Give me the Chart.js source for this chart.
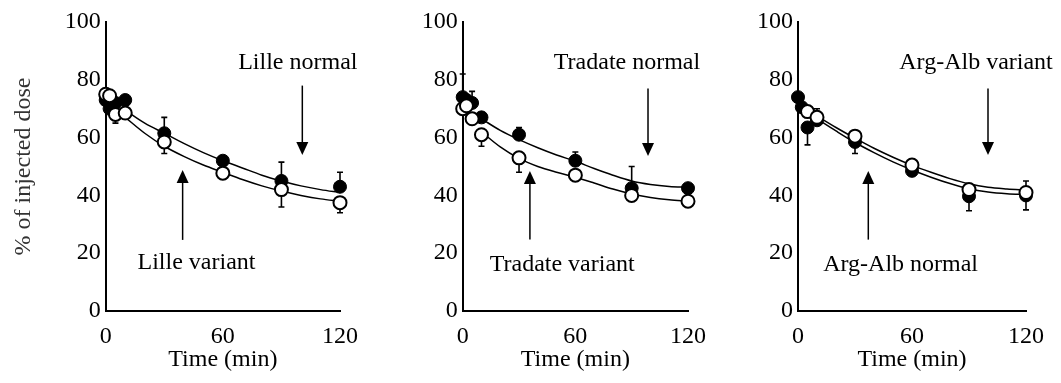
<!DOCTYPE html>
<html>
<head>
<meta charset="utf-8">
<script src="https://cdn.jsdelivr.net/npm/chart.js@4.4.1/dist/chart.umd.min.js"></script>
<style>
  body { margin: 0; background: #fff; width: 1061px; height: 383px; position: relative; overflow: hidden; }
  canvas { position: absolute; top: 0; }
</style>
</head>
<body>
<canvas id="lille" width="370" height="383" style="left:0px"></canvas>
<canvas id="tradate" width="370" height="383" style="left:350px"></canvas>
<canvas id="argalb" width="361" height="383" style="left:700px"></canvas>
<script>
// sampling times (min)
const times = [0, 2, 5, 10, 30, 60, 90, 120];
const fitTimes = [10, 20, 30, 40, 50, 60, 70, 80, 90, 100, 110, 120];
const xTicks = [0, 60, 120];

// Lille
const lilleNormal = [73, 70, 72, 73, 61.5, 52, 45, 43];
const lilleVariant = [75, 74.5, 68, 68.5, 58.5, 47.7, 42, 37.5];
const lilleNormalUp = [0, 0, 0, 0, 5.5, 0, 6.5, 5];
const lilleVariantDown = [0, 0, 3, 0, 4, 0, 6, 3.5];
const lilleNormalFit = [69.5, 65, 61.5, 58, 54.8, 52, 49.5, 47, 45, 43.3, 42, 41];
const lilleVariantFit = [67, 61.5, 57, 53.5, 50.5, 48, 45.5, 43.3, 41.5, 40, 38.8, 38];

// Tradate
const tradateNormal = [74, 73, 72, 67, 61, 52, 42.5, 42.5];
const tradateVariant = [70, 71, 66.5, 61, 53, 47, 40, 38];
const tradateNormalUp = [8, 0, 4, 0, 2.5, 3, 7.5, 0];
const tradateVariantDown = [0, 0, 0, 4, 5, 0, 0, 0];
const tradateNormalFit = [66.5, 62.5, 59.3, 56.5, 54, 51.8, 49.3, 47, 45, 43.8, 43.1, 42.8];
const tradateVariantFit = [62, 56.8, 52.8, 50, 48, 46.3, 44.3, 42.2, 40.5, 39.3, 38.5, 38];

// Arg-Alb
const argNormal = [74, 70.5, 63.5, 66, 58.5, 48.5, 39.7, 40];
const argVariant = [null, null, 69, 67, 60.5, 50.5, 42, 41];
const argNormalDown = [0, 0, 6, 0, 4, 0, 5, 5];
const argVariantUp = [0, 0, 0, 3, 0, 0, 0, 4];
const argNormalFit = [66.5, 62.3, 58.3, 54.8, 51.6, 48.8, 46.3, 44.1, 42.3, 41.2, 40.6, 40.3];
const argVariantFit = [67.5, 63.5, 59.8, 56.3, 53.2, 50.4, 48, 45.8, 44, 42.8, 42.2, 41.8];

const serif = "'Liberation Serif', 'Times New Roman', serif";

function pts(xs, ys) {
  const out = [];
  xs.forEach((x, i) => { if (ys[i] != null) out.push({ x: x, y: ys[i] }); });
  return out;
}

// error bars drawn under the markers
const errorBars = {
  id: 'errorBars',
  beforeDatasetsDraw(chart) {
    const { ctx, scales: { x, y } } = chart;
    ctx.save();
    ctx.strokeStyle = '#000';
    ctx.lineWidth = 1.6;
    chart.data.datasets.forEach(ds => {
      if (!ds.errVals) return;
      ds.errVals.forEach((v, i) => {
        if (v == null) return;
        const px = x.getPixelForValue(times[i]);
        const draw = (e, dir) => {
          if (!e) return;
          const p0 = y.getPixelForValue(v);
          const p1 = y.getPixelForValue(v + dir * e);
          ctx.beginPath();
          ctx.moveTo(px, p0); ctx.lineTo(px, p1);
          ctx.moveTo(px - 3, p1); ctx.lineTo(px + 3, p1);
          ctx.stroke();
        };
        if (ds.errUp) draw(ds.errUp[i], 1);
        if (ds.errDown) draw(ds.errDown[i], -1);
      });
    });
    ctx.restore();
  }
};

// curve labels with arrows
function notesPlugin(notes) {
  return {
    id: 'notes',
    afterDraw(chart) {
      const { ctx, scales: { x, y } } = chart;
      ctx.save();
      ctx.fillStyle = '#000';
      ctx.strokeStyle = '#000';
      ctx.lineWidth = 1.5;
      ctx.font = '24px ' + serif;
      ctx.textAlign = 'center';
      ctx.textBaseline = 'middle';
      notes.forEach(n => {
        ctx.fillText(n.text, x.getPixelForValue(n.tx), y.getPixelForValue(n.ty));
        const ax = x.getPixelForValue(n.ax);
        const from = y.getPixelForValue(n.from);
        const tip = y.getPixelForValue(n.to);
        const dir = tip > from ? 1 : -1;
        ctx.beginPath();
        ctx.moveTo(ax, from);
        ctx.lineTo(ax, tip - dir * 12);
        ctx.stroke();
        ctx.beginPath();
        ctx.moveTo(ax, tip);
        ctx.lineTo(ax - 6, tip - dir * 13);
        ctx.lineTo(ax + 6, tip - dir * 13);
        ctx.closePath();
        ctx.fill();
      });
      ctx.restore();
    }
  };
}

function crearPanel(id, p) {
  const ctx = document.getElementById(id).getContext('2d');
  return new Chart(ctx, {
    type: 'scatter',
    data: {
      datasets: [
        {
          data: pts(times, p.open),
          errVals: p.open, errUp: p.openUp, errDown: p.openDown,
          clip: false,
          pointRadius: 6.5,
          pointBackgroundColor: '#fff',
          pointBorderColor: '#000',
          pointBorderWidth: 2
        },
        {
          data: pts(times, p.filled),
          errVals: p.filled, errUp: p.filledUp, errDown: p.filledDown,
          clip: false,
          pointRadius: 6.5,
          pointBackgroundColor: '#000',
          pointBorderColor: '#000',
          pointBorderWidth: 1
        },
        {
          data: pts(fitTimes, p.fitA),
          showLine: true, borderColor: '#000', borderWidth: 1.5,
          pointRadius: 0, cubicInterpolationMode: 'monotone', clip: false
        },
        {
          data: pts(fitTimes, p.fitB),
          showLine: true, borderColor: '#000', borderWidth: 1.5,
          pointRadius: 0, cubicInterpolationMode: 'monotone', clip: false
        }
      ]
    },
    options: {
      responsive: false,
      animation: false,
      layout: { padding: { left: 0, top: 22, right: p.padRight, bottom: 0 } },
      scales: {
        x: {
          type: 'linear', min: 0, max: 120,
          afterBuildTicks: s => { s.ticks = xTicks.map(v => ({ value: v })); },
          afterFit: s => { s.height = 72; },
          grid: { display: false, drawTicks: false, tickLength: 0 },
          border: { display: true, color: '#000', width: 2 },
          ticks: { color: '#000', padding: 11, maxRotation: 0, font: { family: serif, size: 24 } },
          title: { display: true, text: 'Time (min)', color: '#000', padding: { top: 0, bottom: 9 }, font: { family: serif, size: 24 } }
        },
        y: {
          min: 0, max: 100,
          afterFit: s => { s.width = p.yWidth; },
          grid: { display: false, drawTicks: false, tickLength: 0 },
          border: { display: true, color: '#000', width: 2 },
          ticks: { stepSize: 20, color: '#000', padding: 5, font: { family: serif, size: 24 } },
          title: { display: p.yTitle, text: '% of injected dose', color: '#333', padding: { top: 9, bottom: 0 }, font: { family: serif, size: 24 } }
        }
      },
      plugins: { legend: { display: false }, tooltip: { enabled: false } }
    },
    plugins: [errorBars, notesPlugin(p.notes)]
  });
}

crearPanel('lille', {
  open: lilleVariant, openDown: lilleVariantDown,
  filled: lilleNormal, filledUp: lilleNormalUp,
  fitA: lilleNormalFit, fitB: lilleVariantFit,
  yWidth: 105.7, padRight: 30, yTitle: true,
  notes: [
    { text: 'Lille normal', tx: 98.4, ty: 86, ax: 100.7, from: 78, to: 54 },
    { text: 'Lille variant', tx: 46.5, ty: 16.6, ax: 39.4, from: 24.6, to: 48.8 }
  ]
});

crearPanel('tradate', {
  open: tradateVariant, openDown: tradateVariantDown,
  filled: tradateNormal, filledUp: tradateNormalUp,
  fitA: tradateNormalFit, fitB: tradateVariantFit,
  yWidth: 112.7, padRight: 32, yTitle: false,
  notes: [
    { text: 'Tradate normal', tx: 87.5, ty: 86, ax: 98.7, from: 77, to: 53.6 },
    { text: 'Tradate variant', tx: 53, ty: 16, ax: 35.8, from: 24.7, to: 48.4 }
  ]
});

crearPanel('argalb', {
  open: argVariant, openUp: argVariantUp,
  filled: argNormal, filledDown: argNormalDown,
  fitA: argVariantFit, fitB: argNormalFit,
  yWidth: 98, padRight: 35, yTitle: false,
  notes: [
    { text: 'Arg-Alb variant', tx: 93.7, ty: 86, ax: 100, from: 77, to: 54 },
    { text: 'Arg-Alb normal', tx: 54, ty: 16, ax: 37, from: 24.7, to: 48.4 }
  ]
});
</script>
</body>
</html>
